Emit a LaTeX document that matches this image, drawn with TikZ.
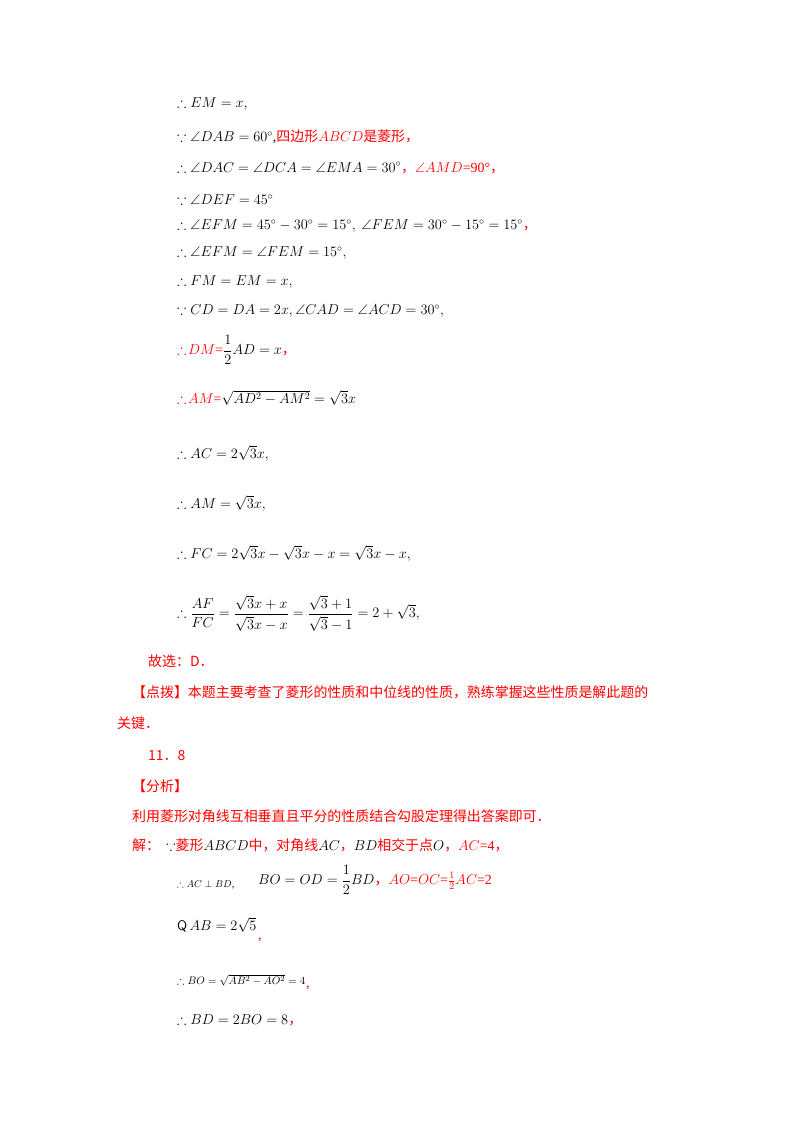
\documentclass[tikz,border=0pt]{standalone}
\usepackage{fontspec}
\usepackage{amsmath,amssymb}
\setmainfont{Liberation Serif}
\newfontfamily\cjk{Noto Sans CJK SC}
\definecolor{rd}{HTML}{FF0000}
\begin{document}
\begin{tikzpicture}[x=1bp,y=-1bp,
  ln/.style={anchor=west,inner sep=0pt,font=\fontsize{14}{16}\selectfont},
  sm/.style={anchor=west,inner sep=0pt,font=\fontsize{10}{12}\selectfont}]
\useasboundingbox[fill=white] (0,0) rectangle (800,1132);
\newcommand{\R}[1]{\textcolor{rd}{#1}}
\node[ln] (l1) at (177,104) {$\therefore EM=x,$};
\node[ln] (l2) at (177,137) {$\because \angle DAB=60^\circ$,\R{\cjk 四边形}\R{$ABCD$}\R{\cjk 是菱形，}};
\node[ln] (l3) at (177,168) {$\therefore \angle DAC=\angle DCA=\angle EMA=30^\circ$\R{\cjk ，}\R{$\angle AMD$=90°}\R{\cjk ，}};
\node[ln] (l4) at (177,200) {$\because \angle DEF=45^\circ$};
\node[ln] (l5) at (177,226) {$\therefore \angle EFM=45^\circ-30^\circ=15^\circ,\ \angle FEM=30^\circ-15^\circ=15^\circ$\R{\cjk ，}};
\node[ln] (l6) at (177,253) {$\therefore \angle EFM=\angle FEM=15^\circ,$};
\node[ln] (l7) at (177,282) {$\therefore FM=EM=x,$};
\node[ln] (l8) at (177,311) {$\because CD=DA=2x,\angle CAD=\angle ACD=30^\circ,$};
\node[ln] (l9) at (177,350) {\R{$\therefore\!DM$=}$\dfrac12 AD=x$\R{\cjk ，}};
\node[ln] (l10) at (177,398) {\R{$\therefore\!AM$=}$\sqrt{AD^2-AM^2}=\sqrt3 x$};
\node[ln] (l11) at (177,453) {$\therefore AC=2\sqrt3 x,$};
\node[ln] (l12) at (177,503) {$\therefore AM=\sqrt3 x,$};
\node[ln] (l13) at (177,553) {$\therefore FC=2\sqrt3 x-\sqrt3 x-x=\sqrt3 x-x,$};
\node[ln] (l14) at (177,613) {$\therefore \dfrac{AF}{FC}=\dfrac{\sqrt3 x+x}{\sqrt3 x-x}=\dfrac{\sqrt3+1}{\sqrt3-1}=2+\sqrt3,$};
\node[ln,text=rd] (l15) at (148,661) {\cjk 故选：D．};
\node[ln,text=rd] (l16) at (132,692) {\cjk 【点拨】本题主要考查了菱形的性质和中位线的性质，熟练掌握这些性质是解此题的};
\node[ln,text=rd] (l17) at (117,723) {\cjk 关键．};
\node[ln,text=rd] (l18) at (148,756) {\cjk 11．8};
\node[ln,text=rd] (l19) at (132,786) {\cjk 【分析】};
\node[ln,text=rd] (l20) at (132,816) {\cjk 利用菱形对角线互相垂直且平分的性质结合勾股定理得出答案即可．};
\node[ln] (l21) at (132,845) {\R{\cjk 解：\ \ }$\because$\R{\cjk 菱形}$ABCD$\R{\cjk 中，对角线}$AC$\R{\cjk ，}$BD$\R{\cjk 相交于点}$O$\R{\cjk ，}\R{$AC$=4}\R{\cjk ，}};
\node[sm] (l22) at (177,885) {$\therefore AC\perp BD$,};
\node[ln] (l22b) at (258,880) {$BO=OD=\dfrac12 BD$\R{\cjk ，}\R{$AO$=$OC$=$\frac12 AC$=2}};
\node[ln] (l23) at (177,925) {$\mathsf{Q}\,AB=2\sqrt5$};
\node[ln,text=rd] (l23b) at (258,940) {,};
\node[sm,font=\fontsize{11}{13}\selectfont] (l24) at (177,980) {$\therefore BO=\sqrt{AB^2-AO^2}=4$};
\node[ln,text=rd] (l24b) at (306,988) {,};
\node[ln] (l25) at (177,1020) {$\therefore BD=2BO=8$\R{\cjk ，}};
\end{tikzpicture}
\end{document}
